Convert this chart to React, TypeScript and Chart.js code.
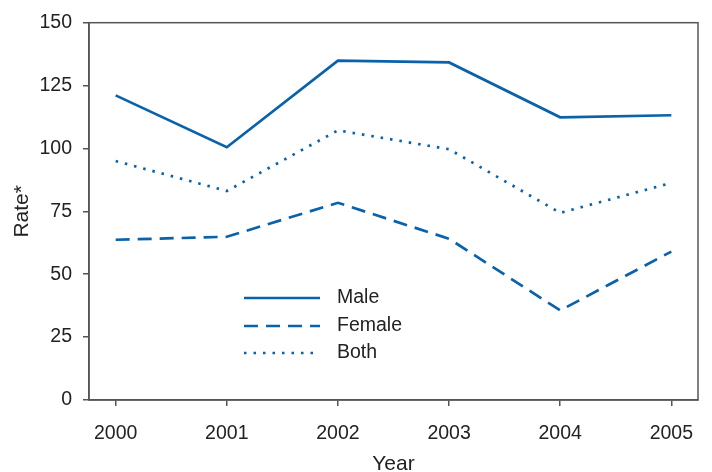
import React, { useEffect, useRef } from "react";
import { Chart, registerables } from "chart.js";

Chart.register(...registerables);

const years = [2000, 2001, 2002, 2003, 2004, 2005];
const male = [121.1, 100.5, 134.9, 134.2, 112.4, 113.2];
const female = [63.7, 64.9, 78.4, 64.1, 35.6, 59.0];
const both = [95.0, 83.1, 107.2, 99.7, 74.4, 86.3];
const yTicks = [0, 25, 50, 75, 100, 125, 150];
const seriesNames = ["Male", "Female", "Both"];

const BLUE = "#0a62aa";
const AXIS = "#555555";
const TEXT = "#222222";
const FONT = "'Liberation Sans', Arial, Helvetica, sans-serif";

const dashes: number[][] = [[], [14, 8], [2.5, 7]];

const framePlugin = {
  id: "frame",
  afterDatasetsDraw(chart: any) {
    const { ctx, chartArea } = chart;
    ctx.save();
    ctx.strokeStyle = AXIS;
    ctx.lineWidth = 1.5;
    ctx.strokeRect(chartArea.left, chartArea.top, chartArea.right - chartArea.left, chartArea.bottom - chartArea.top);
    ctx.restore();
  },
};

const legendPlugin = {
  id: "customLegend",
  afterDatasetsDraw(chart: any) {
    const { ctx } = chart;
    const x0 = 244;
    const x1 = 320;
    const rows = [298, 326, 353];
    ctx.save();
    seriesNames.forEach((name, i) => {
      const y = rows[i];
      ctx.strokeStyle = BLUE;
      ctx.lineWidth = 2.5;
      ctx.setLineDash(dashes[i]);
      ctx.beginPath();
      ctx.moveTo(x0, y);
      ctx.lineTo(x1, y);
      ctx.stroke();
      ctx.setLineDash([]);
      ctx.fillStyle = TEXT;
      ctx.font = `19.5px ${FONT}`;
      ctx.textBaseline = "middle";
      ctx.textAlign = "left";
      ctx.fillText(name, 337, y);
    });
    ctx.restore();
  },
};

export default function App() {
  const ref = useRef<HTMLCanvasElement | null>(null);
  useEffect(() => {
    if (!ref.current) return;
    const mk = (vals: number[]) => years.map((y, i) => ({ x: y, y: vals[i] }));
    const chart = new Chart(ref.current, {
      type: "line",
      data: {
        datasets: [male, female, both].map((vals, i) => ({
          label: seriesNames[i],
          data: mk(vals),
          borderColor: BLUE,
          backgroundColor: BLUE,
          borderWidth: 2.7,
          borderDash: dashes[i],
          pointRadius: 0,
          tension: 0,
          fill: false,
        })),
      },
      options: {
        animation: false,
        responsive: false,
        maintainAspectRatio: false,
        layout: { padding: { top: 21, right: 14, left: 0, bottom: 0 } },
        plugins: { legend: { display: false }, tooltip: { enabled: false } },
        scales: {
          x: {
            type: "linear",
            min: 1999.76,
            max: 2005.24,
            afterBuildTicks: (scale: any) => {
              scale.ticks = years.map((v) => ({ value: v }));
            },
            afterFit: (scale: any) => {
              scale.height = 72;
            },
            grid: { drawOnChartArea: false, drawTicks: true, tickLength: 6, color: AXIS, lineWidth: 1.5 },
            border: { display: true, color: AXIS, width: 1.5 },
            ticks: {
              padding: 16,
              color: TEXT,
              font: { family: FONT, size: 19.5 },
              callback: (v: any) => String(v),
              maxRotation: 0,
            },
            title: {
              display: true,
              text: "Year",
              color: TEXT,
              font: { family: FONT, size: 21 },
              padding: { top: -5, bottom: -5 },
            },
          },
          y: {
            min: 0,
            max: 150,
            afterBuildTicks: (scale: any) => {
              scale.ticks = yTicks.map((v) => ({ value: v }));
            },
            afterFit: (scale: any) => {
              scale.width = 89;
            },
            grid: { drawOnChartArea: false, drawTicks: true, tickLength: 6, color: AXIS, lineWidth: 1.5 },
            border: { display: true, color: AXIS, width: 1.5 },
            ticks: {
              padding: 11,
              color: TEXT,
              font: { family: FONT, size: 19.5 },
            },
            title: {
              display: true,
              text: "Rate*",
              color: TEXT,
              font: { family: FONT, size: 21 },
              padding: { top: 10, bottom: 0 },
            },
          },
        },
      },
      plugins: [framePlugin, legendPlugin],
    } as any);
    return () => chart.destroy();
  }, []);
  return (
    <div style={{ position: "fixed", left: 0, top: 0, width: 712, height: 472, background: "#fff" }}>
      <canvas ref={ref} width={712} height={472} style={{ width: 712, height: 472 }} />
    </div>
  );
}
